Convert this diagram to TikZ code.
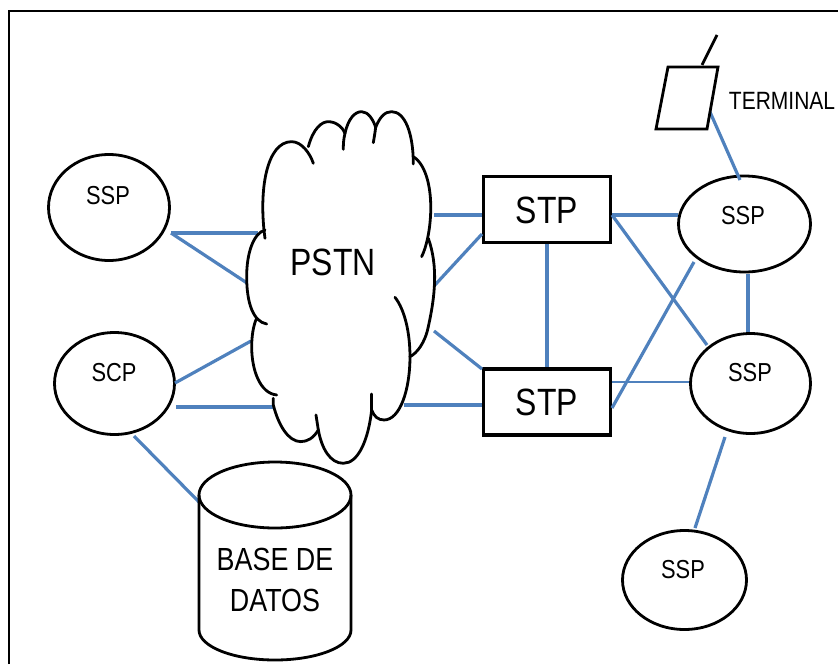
\documentclass[tikz,border=0pt]{standalone}
\usepackage{fontspec}
\setmainfont{Liberation Sans}
\newfontfamily\narrowfont[FakeStretch=0.84]{Liberation Sans}
\usetikzlibrary{shapes.geometric}
\definecolor{linkblue}{HTML}{4F81BD}
\tikzset{
  outline/.style={draw=black,line width=2.8pt},
  elly/.style={outline,ellipse,inner sep=0pt,fill=white},
  stpbox/.style={draw=black,line width=3.4pt,rectangle,minimum width=127pt,minimum height=66pt,inner sep=0pt},
  link/.style={draw=linkblue,line width=3.2pt},
  thinlink/.style={draw=linkblue,line width=1.5pt},
  small/.style={font=\narrowfont\fontsize{26}{26}\selectfont},
  big/.style={font=\narrowfont\fontsize{38}{38}\selectfont},
}
\begin{document}
\begin{tikzpicture}[x=1pt,y=-1pt]
\useasboundingbox (0,0) rectangle (838,664);
% frame
\draw[outline] (9,664) -- (9,11) -- (838,11);

% named free ends on the cloud and the cylinder
\coordinate (cL1) at (258,233);
\coordinate (cL2) at (247,283);
\coordinate (cL3) at (251,341);
\coordinate (cL4) at (275,407);
\coordinate (cR1) at (434,215);
\coordinate (cR2) at (434,286);
\coordinate (cR3) at (434,331);
\coordinate (cR4) at (404,405);
\coordinate (dbT) at (199,502);

% nodes
\node[elly,minimum width=121pt,minimum height=106pt] (ssp1) at (109,207.5) {};
\node[elly,minimum width=120pt,minimum height=102pt] (scp) at (114.5,383.5) {};
\node[elly,minimum width=132pt,minimum height=96pt] (ssp2) at (744.5,224) {};
\node[elly,minimum width=120pt,minimum height=100pt] (ssp3) at (750.5,383.5) {};
\node[elly,minimum width=124pt,minimum height=99pt] (ssp4) at (684.5,580) {};
\node[stpbox] (stp1) at (547,209.5) {};
\node[stpbox] (stp2) at (547,402) {};
\coordinate (s1a) at (171,233);
\coordinate (s2a) at (175,383);
\coordinate (s2b) at (176,407);
\coordinate (s2c) at (134,436);
\coordinate (t1a) at (612,215);
\coordinate (t2a) at (612,408);
\coordinate (t2b) at (612,382);
\coordinate (e2a) at (678,215);
\coordinate (e2b) at (694,262);
\coordinate (e3a) at (707,345);
\coordinate (e3b) at (689,382);
\coordinate (e3c) at (748,332);
\coordinate (e2c) at (748,274);
\coordinate (e3d) at (725,437);
\coordinate (e4a) at (695,528);
\coordinate (termA) at (710,112);
\coordinate (e2t) at (740,180);
\coordinate (tl1) at (482,215);
\coordinate (tl2) at (482,234);
\coordinate (tl3) at (482,369);
\coordinate (tl4) at (482,405);
\coordinate (tm1) at (547,244);
\coordinate (tm2) at (547,367);

% connectors
\draw[link] (s1a) -- (cL1);
\draw[link] (s1a) -- (cL2);
\draw[link] (s2a) -- (cL3);
\draw[link] (s2b) -- (cL4);
\draw[link] (s2c) -- (dbT);
\draw[link] (cR1) -- (tl1);
\draw[link] (cR2) -- (tl2);
\draw[link] (cR3) -- (tl3);
\draw[link] (cR4) -- (tl4);
\draw[link] (t1a) -- (e2a);
\draw[link] (t1a) -- (e3a);
\draw[link] (tm1) -- (tm2);
\draw[link] (t2a) -- (e2b);
\draw[thinlink] (t2b) -- (e3b);
\draw[link] (e2c) -- (e3c);
\draw[link] (e3d) -- (e4a);
\draw[link] (termA) -- (e2t);

% labels on top of the nodes
\node[small] (lssp1) at (108,196) {SSP};
\node[small] (lscp) at (114,373) {SCP};
\node[small] (lssp2) at (743,216) {SSP};
\node[small] (lssp3) at (750,373) {SSP};
\node[small] (lssp4) at (683,570) {SSP};
\node[big] (lstp1) at (547,210) {STP};
\node[big] (lstp2) at (547,402) {STP};

% cloud (traced, coordinates are 3x zoom of the reference)
\begin{scope}[shift={(230,90)},x=0.3333pt,y=-0.3333pt,outline,line cap=round,line join=round]
\draw (105,445) .. controls (85,300) and (110,155) .. (185,155) .. controls (215,155) and (240,190) .. (250,220);
\draw (235,170) .. controls (250,115) and (275,95) .. (295,95) .. controls (320,95) and (340,115) .. (345,130);
\draw (345,130) .. controls (340,150) and (340,165) .. (340,178);
\draw (345,130) .. controls (355,85) and (375,65) .. (395,65) .. controls (415,65) and (430,90) .. (437,112);
\draw (437,112) .. controls (435,130) and (432,145) .. (430,158);
\draw (437,112) .. controls (450,80) and (465,65) .. (485,65) .. controls (525,65) and (550,130) .. (550,222);
\draw (550,200) .. controls (590,225) and (605,300) .. (602,370) .. controls (600,420) and (590,470) .. (575,500);
\draw (595,445) .. controls (625,530) and (615,620) .. (595,710) .. controls (585,760) and (560,790) .. (540,800);
\draw (540,800) .. controls (540,730) and (525,660) .. (495,622);
\draw (540,800) .. controls (540,900) and (510,990) .. (462,990) .. controls (445,990) and (432,980) .. (425,960);
\draw (425,960) -- (425,912);
\draw (425,960) .. controls (415,1050) and (385,1120) .. (340,1120) .. controls (300,1120) and (275,1075) .. (265,1020);
\draw (265,1020) -- (258,975);
\draw (265,1020) .. controls (250,1045) and (232,1055) .. (212,1055) .. controls (175,1055) and (145,1005) .. (130,945) -- (130,925);
\draw (140,915) .. controls (90,910) and (65,840) .. (65,770) .. controls (65,740) and (70,705) .. (80,685);
\draw (110,702) .. controls (70,695) and (50,640) .. (50,560) .. controls (50,490) and (70,430) .. (105,420);
\end{scope}
\node[big] (pstn) at (333,262) {PSTN};

% database
\draw[outline] (199,495) -- (199,630) arc[start angle=180,end angle=0,x radius=76,y radius=30] -- (351,495);
\node[draw=black,line width=2.8pt,ellipse,minimum width=152pt,minimum height=66pt,inner sep=0pt] (db) at (275,495) {};
\node[font=\narrowfont\fontsize{32}{41}\selectfont,align=center] (ldb) at (275,579.5) {BASE DE\\DATOS};

% terminal
\node[font=\narrowfont\fontsize{25}{25}\selectfont,inner sep=0pt] (lterm) at (782,101) {TERMINAL};
\draw[outline,line join=miter] (668,67) coordinate (p1) -- (718,67) coordinate (p2) -- (707,129) coordinate (p3) -- (656,129) coordinate (p4) -- cycle;
\coordinate (ant1) at (702,65);
\coordinate (ant2) at (717,35);
\draw[outline] (ant1) -- (ant2);
\end{tikzpicture}
\end{document}
